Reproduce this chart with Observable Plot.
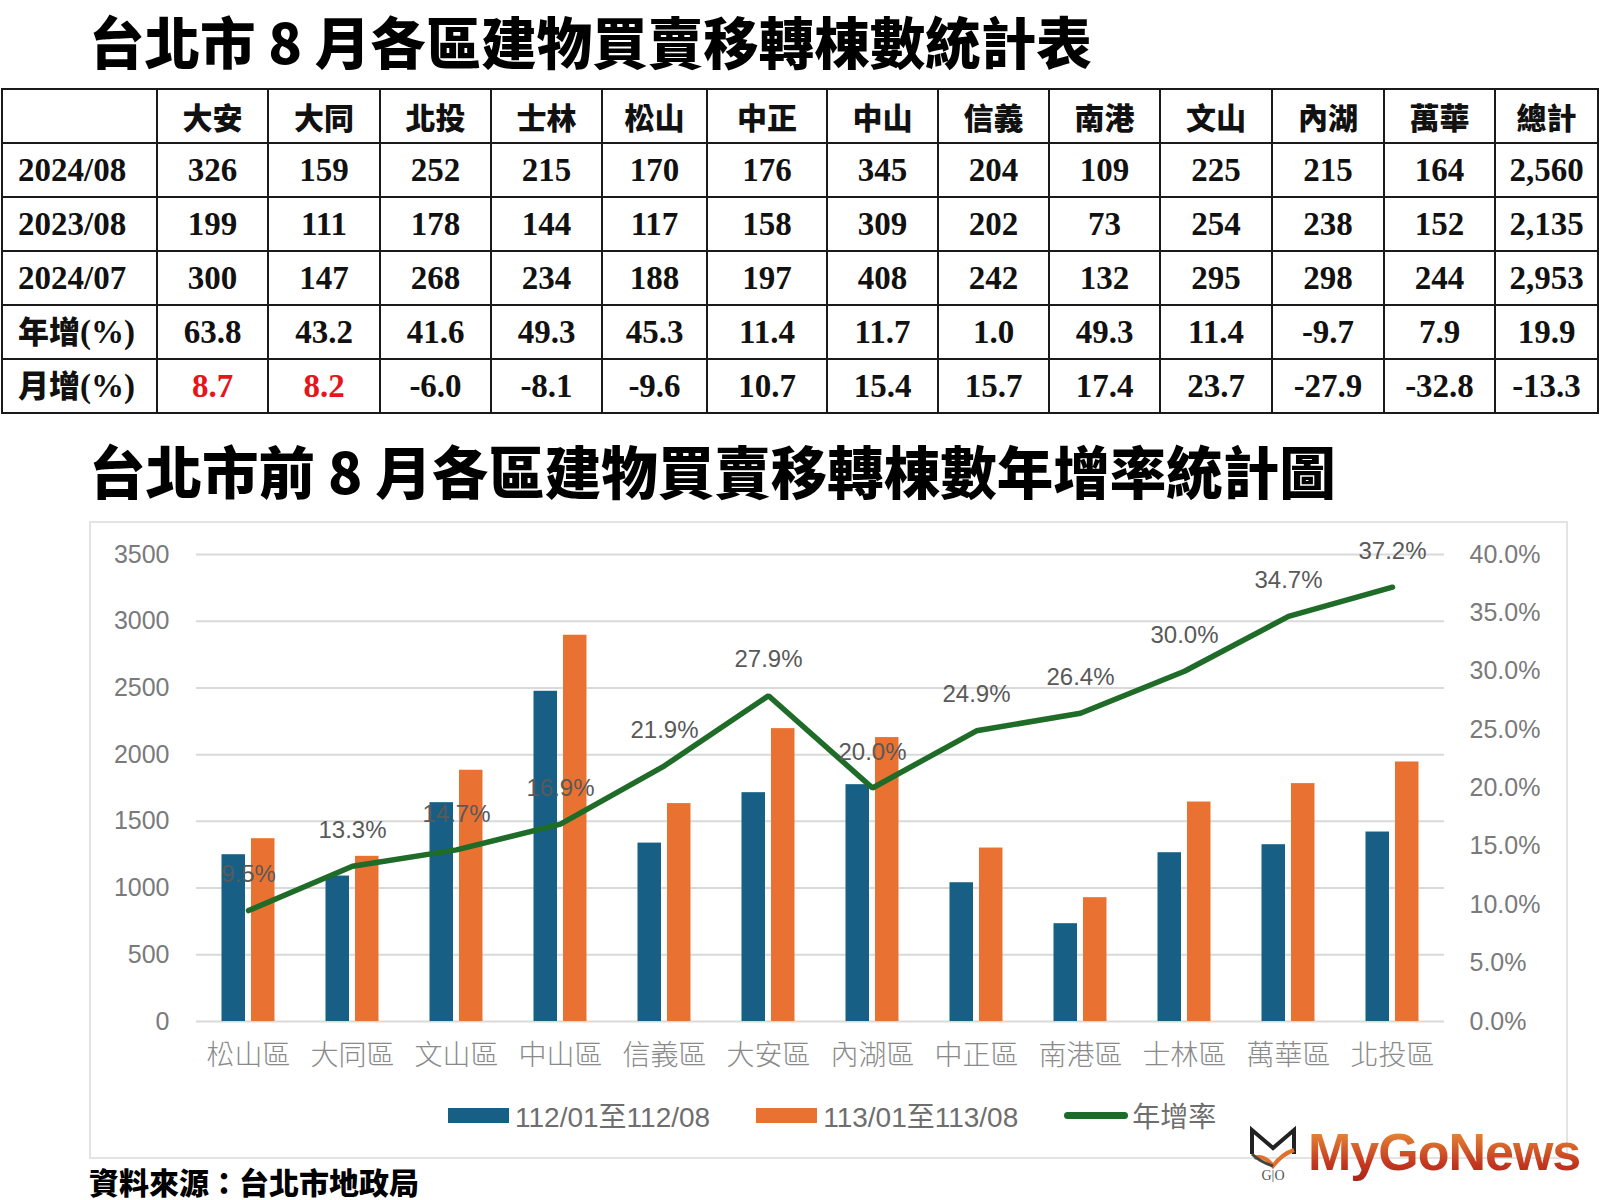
<!DOCTYPE html>
<html><head><meta charset="utf-8">
<script src="https://cdn.jsdelivr.net/npm/d3@7"></script>
<script src="https://cdn.jsdelivr.net/npm/@observablehq/plot@0.6"></script>
<style>
body{margin:0;background:#fff;width:1600px;height:1200px;position:relative;overflow:hidden;font-family:"Noto Sans CJK TC",sans-serif;}
.title{position:absolute;left:89px;font-weight:900;color:#000;white-space:nowrap;line-height:1.2;}
#t1{top:0px;font-size:55.5px;line-height:normal;}
#t2{top:436px;font-size:56.5px;}
#tbl{position:absolute;left:1px;top:88px;border-collapse:collapse;table-layout:fixed;width:1598px;}
#tbl td{border:2px solid #1a1a1a;height:50px;padding:0;text-align:center;font-family:"Liberation Serif","Noto Sans CJK TC",serif;font-weight:bold;font-size:33px;color:#111;line-height:1.1;}
#tbl tr.head td{font-family:"Noto Sans CJK TC",sans-serif;font-weight:900;font-size:30px;}
#tbl td.rowlab{text-align:left;padding-left:15px;}
#tbl td.rowlab .cj{font-family:"Noto Sans CJK TC",sans-serif;font-weight:900;font-size:31px;}
#box{position:absolute;left:89px;top:521px;width:1475px;height:634px;border:2px solid #e3e3e3;}
#chart{position:absolute;left:90px;top:522px;}
#legend{position:absolute;left:448px;top:1096px;display:flex;align-items:center;height:38px;font-family:"Liberation Sans","Noto Sans CJK TC",sans-serif;font-size:28px;color:#6e6e6e;}
#legend .item{display:flex;align-items:center;margin-right:46px;}
#legend .sw{margin-right:6px;}
#caption{position:absolute;left:89px;top:1165px;font-size:30px;font-weight:900;color:#000;white-space:nowrap;line-height:1.1;}
#logo{position:absolute;left:1246px;top:1124px;display:flex;align-items:center;}
#logo .txt{font-family:"Liberation Sans",sans-serif;font-weight:bold;font-size:52px;letter-spacing:-1px;line-height:1.1;background:linear-gradient(#ef9a3a,#c2351f 70%,#a8221a);-webkit-background-clip:text;background-clip:text;color:transparent;margin-left:8px;}
</style></head>
<body>
<div class="title" id="t1">台北市 8 月各區建物買賣移轉棟數統計表</div>
<table id="tbl"></table>
<div class="title" id="t2">台北市前 8 月各區建物買賣移轉棟數年增率統計圖</div>
<div id="box"></div>
<div id="chart"></div>
<div id="legend"></div>
<div id="caption">資料來源：台北市地政局</div>
<div id="logo">
<svg width="54" height="58" viewBox="0 0 54 58">
<path d="M6 30 L6 6 L27 24 L48 6 L48 30" fill="none" stroke="#222" stroke-width="4"/>
<path d="M8 34 Q18 30 27 42 Q36 30 48 26" fill="none" stroke="#e0702a" stroke-width="4"/>
<path d="M6 30 Q14 38 27 42" fill="none" stroke="#444" stroke-width="3"/>
<text x="27" y="56" text-anchor="middle" font-family="Liberation Serif" font-size="14" fill="#555">G|O</text>
</svg>
<div class="txt">MyGoNews</div>
</div>
<script>
// ---- Table data ----
const tableCols = ["大安","大同","北投","士林","松山","中正","中山","信義","南港","文山","內湖","萬華","總計"];
const colWidths = [155,111,112,111,111,105,120,111,111,111,112,112,111,103];
const rowLabels = ["2024/08","2023/08","2024/07","年增(%)","月增(%)"];
const aug2024 = [326,159,252,215,170,176,345,204,109,225,215,164,2560];
const aug2023 = [199,111,178,144,117,158,309,202,73,254,238,152,2135];
const jul2024 = [300,147,268,234,188,197,408,242,132,295,298,244,2953];
const yoyPct  = [63.8,43.2,41.6,49.3,45.3,11.4,11.7,1.0,49.3,11.4,-9.7,7.9,19.9];
const momPct  = [8.7,8.2,-6.0,-8.1,-9.6,10.7,15.4,15.7,17.4,23.7,-27.9,-32.8,-13.3];
const momRed  = ["大安","大同"];

// ---- Chart data ----
const districts = ["松山區","大同區","文山區","中山區","信義區","大安區","內湖區","中正區","南港區","士林區","萬華區","北投區"];
const prevPeriod = [1250,1090,1640,2475,1337,1715,1775,1040,733,1265,1325,1420];
const currPeriod = [1370,1238,1883,2895,1633,2195,2128,1300,928,1645,1783,1945];
const growthPct = [9.5,13.3,14.7,16.9,21.9,27.9,20.0,24.9,26.4,30.0,34.7,37.2];
const leftTicks = [0,500,1000,1500,2000,2500,3000,3500];
const rightTicks = [0,5,10,15,20,25,30,35,40];
const seriesNames = ["112/01至112/08","113/01至113/08","年增率"];
const seriesColors = ["#175f85","#e97232","#1f6b28"];

// build table
const tbl = d3.select("#tbl");
const cg = tbl.append("colgroup");
colWidths.forEach(w => cg.append("col").style("width", w + "px"));
const head = tbl.append("tr").attr("class","head").style("height","54px");
head.append("td");
tableCols.forEach(c => head.append("td").text(c));
const fmtInt = d3.format(",");
const rowsData = [aug2024.map(fmtInt), aug2023.map(fmtInt), jul2024.map(fmtInt), yoyPct.map(v=>v.toFixed(1)), momPct.map(v=>v.toFixed(1))];
rowsData.forEach((vals, r) => {
  const tr = tbl.append("tr").style("height","54px");
  const lab = tr.append("td").attr("class","rowlab");
  const m = rowLabels[r].match(/^([^\x00-\x7f]*)(.*)$/);
  if (m[1]) lab.append("span").attr("class","cj").text(m[1]);
  lab.append("span").text(m[2]);
  vals.forEach((v, i) => {
    const td = tr.append("td").text(v);
    if (r === 4 && momRed.includes(tableCols[i])) td.style("color","#e8141b");
  });
});

// chart
const k = 3500 / 40;
const rows = districts.map((d, i) => ({d, prev: prevPeriod[i], curr: currPeriod[i], g: growthPct[i], gy: growthPct[i] * k}));
const chart = Plot.plot({
  width: 1477, height: 558,
  marginLeft: 106, marginRight: 123, marginTop: 32, marginBottom: 59,
  style: {fontFamily: "Liberation Sans, Arial, sans-serif", background: "transparent", overflow: "visible"},
  x: {domain: districts, padding: 0, label: null},
  y: {domain: [0, 3500], label: null},
  marks: [
    Plot.ruleY(leftTicks, {stroke: "#d9d9d9", strokeWidth: 2}),
    Plot.barY(rows, {x: "d", y: "prev", fill: seriesColors[0], insetLeft: 25.5, insetRight: 55}),
    Plot.barY(rows, {x: "d", y: "curr", fill: seriesColors[1], insetLeft: 55, insetRight: 25.5}),
    Plot.line(rows, {x: "d", y: "gy", stroke: seriesColors[2], strokeWidth: 5.5, strokeLinejoin: "miter"}),
    Plot.text(rows, {x: "d", y: "gy", text: d => d.g.toFixed(1) + "%", dy: -36, fill: "#595959", fontSize: 24}),
    Plot.axisY({ticks: leftTicks, tickFormat: d3.format("d"), tickSize: 0, tickPadding: 27, fontSize: 25, color: "#7a7a7a", label: null}),
    Plot.axisY({anchor: "right", ticks: rightTicks.map(v => v * k), tickFormat: v => (v / k).toFixed(1) + "%", tickSize: 0, tickPadding: 25, fontSize: 25, color: "#7a7a7a", label: null}),
    Plot.axisX({tickSize: 0, tickPadding: 24, fontSize: 28, fontFamily: "Noto Sans CJK TC", fontWeight: 300, color: "#8a8a8a", label: null})
  ]
});
document.getElementById("chart").appendChild(chart);

// legend
const lg = d3.select("#legend");
seriesNames.forEach((name, i) => {
  const it = lg.append("div").attr("class","item");
  const sw = it.append("div").attr("class","sw").style("background", seriesColors[i]);
  if (i < 2) sw.style("width","61px").style("height","15px");
  else sw.style("width","64px").style("height","7px").style("border-radius","4px").style("margin-right","4px");
  it.append("span").text(name);
});
</script>
</body></html>
